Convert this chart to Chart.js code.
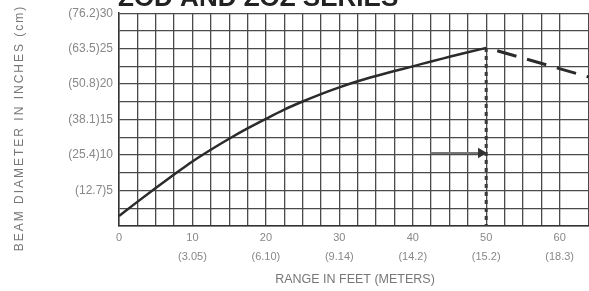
<!DOCTYPE html>
<html>
<head>
<meta charset="utf-8">
<script src="https://cdn.jsdelivr.net/npm/chart.js@4/dist/chart.umd.min.js"></script>
<style>
  html, body { margin: 0; padding: 0; background: #fff; }
  #wrap { width: 589px; height: 291px; position: relative; }
</style>
</head>
<body>
<div id="wrap"><canvas id="beamChart"></canvas></div>
<script>
// beam diameter curve
var rangeFeet  = [0, 2.5, 5, 7.5, 10, 12.5, 15, 17.5, 20, 22.5, 25, 27.5, 30, 32.5, 35, 37.5, 40, 42.5, 45, 47.5, 50];
var beamInches = [1.4, 3.4, 5.35, 7.25, 9.1, 10.75, 12.3, 13.75, 15.1, 16.4, 17.55, 18.6, 19.55, 20.4, 21.15, 21.85, 22.5, 23.2, 23.85, 24.5, 25.1];

// dashed fall-off past the max range
var taperFeet   = [51.5, 64];
var taperInches = [24.7, 21.0];

// dotted max-range marker and the arrow pointing at it
var markerFeet   = [50, 50];
var markerInches = [25.1, 0];
var arrowFeet    = [42.4, 49.3];
var arrowInches  = [10.3, 10.3];

var yTickLabels = {5: "(12.7)5", 10: "(25.4)10", 15: "(38.1)15", 20: "(50.8)20", 25: "(63.5)25", 30: "(76.2)30"};
var xTickLabels = {0: ["0"], 10: ["10", "(3.05)"], 20: ["20", "(6.10)"], 30: ["30", "(9.14)"], 40: ["40", "(14.2)"], 50: ["50", "(15.2)"], 60: ["60", "(18.3)"]};

var chartTitle = "ZOD AND ZOZ SERIES";
var xTitle = "RANGE IN FEET (METERS)";
var yTitle = "BEAM DIAMETER IN INCHES (cm)";

function toPoints(xs, ys) {
	var pts = [];
	for (var i = 0; i < xs.length; i++) {
		pts.push({x: xs[i], y: ys[i]});
	}
	return pts;
}

// titles are drawn by hand so they sit where the scan has them
var textPlugin = {
	id: "textPlugin",
	afterDraw: function(chart) {
		var ctx = chart.ctx;
		ctx.save();
		ctx.fillStyle = "#222";
		ctx.font = "bold 26px 'Liberation Sans', Arial, sans-serif";
		ctx.textBaseline = "alphabetic";
		ctx.textAlign = "left";
		ctx.fillText(chartTitle, 118, 6);

		ctx.fillStyle = "#777";
		ctx.font = "12.5px 'Liberation Sans', Arial, sans-serif";
		ctx.textAlign = "center";
		ctx.textBaseline = "middle";
		ctx.fillText(xTitle, 355, 280);

		ctx.translate(20, 128);
		ctx.rotate(-Math.PI / 2);
		ctx.font = "12px 'Liberation Sans', Arial, sans-serif";
		ctx.letterSpacing = "2px";
		ctx.fillText(yTitle, 0, 0);
		ctx.restore();
	}
};

var ctx = document.getElementById("beamChart");
var beamChart = new Chart(ctx, {
	type: "line",
	data: {
		datasets: [
			{
				data: toPoints(rangeFeet, beamInches),
				borderColor: "#2b2b2b",
				borderWidth: 2.5,
				pointRadius: 0,
				cubicInterpolationMode: "monotone"
			},
			{
				data: toPoints(taperFeet, taperInches),
				borderColor: "#2b2b2b",
				borderWidth: 3,
				borderDash: [20, 11],
				pointRadius: 0
			},
			{
				data: toPoints(markerFeet, markerInches),
				borderColor: "#3a3a3a",
				borderWidth: 3,
				borderDash: [4, 4],
				pointRadius: 0
			},
			{
				data: toPoints(arrowFeet, arrowInches),
				borderColor: "#777",
				borderWidth: 2,
				pointStyle: "triangle",
				rotation: 90,
				pointRadius: [0, 4],
				pointBackgroundColor: "#333",
				pointBorderColor: "#333"
			}
		]
	},
	options: {
		responsive: true,
		maintainAspectRatio: false,
		animation: false,
		layout: { autoPadding: false, padding: { top: 10, right: 0, bottom: 0, left: 0 } },
		plugins: {
			legend: { display: false },
			tooltip: { enabled: false }
		},
		scales: {
			x: {
				type: "linear",
				min: 0,
				max: 64,
				afterFit: function(scale) {
					scale.height = 65;
					scale.paddingRight = 0;
				},
				border: { color: "#333", width: 1.5 },
				grid: { color: "#4a4a4a", lineWidth: 1.3, drawTicks: false },
				ticks: {
					stepSize: 2.5,
					autoSkip: false,
					maxRotation: 0,
					padding: 3,
					color: "#888",
					font: { family: "'Liberation Sans', Arial, sans-serif", size: 11, lineHeight: 1.7 },
					callback: function(value) {
						return xTickLabels[value] || "";
					}
				}
			},
			y: {
				min: 0,
				max: 30,
				afterFit: function(scale) { scale.width = 119; },
				border: { color: "#333", width: 1.5 },
				grid: { color: "#4a4a4a", lineWidth: 1.3, drawTicks: false },
				ticks: {
					stepSize: 2.5,
					autoSkip: false,
					padding: 6,
					color: "#888",
					font: { family: "'Liberation Sans', Arial, sans-serif", size: 12 },
					callback: function(value) {
						return yTickLabels[value] || "";
					}
				}
			}
		}
	},
	plugins: [textPlugin]
});
</script>
</body>
</html>
